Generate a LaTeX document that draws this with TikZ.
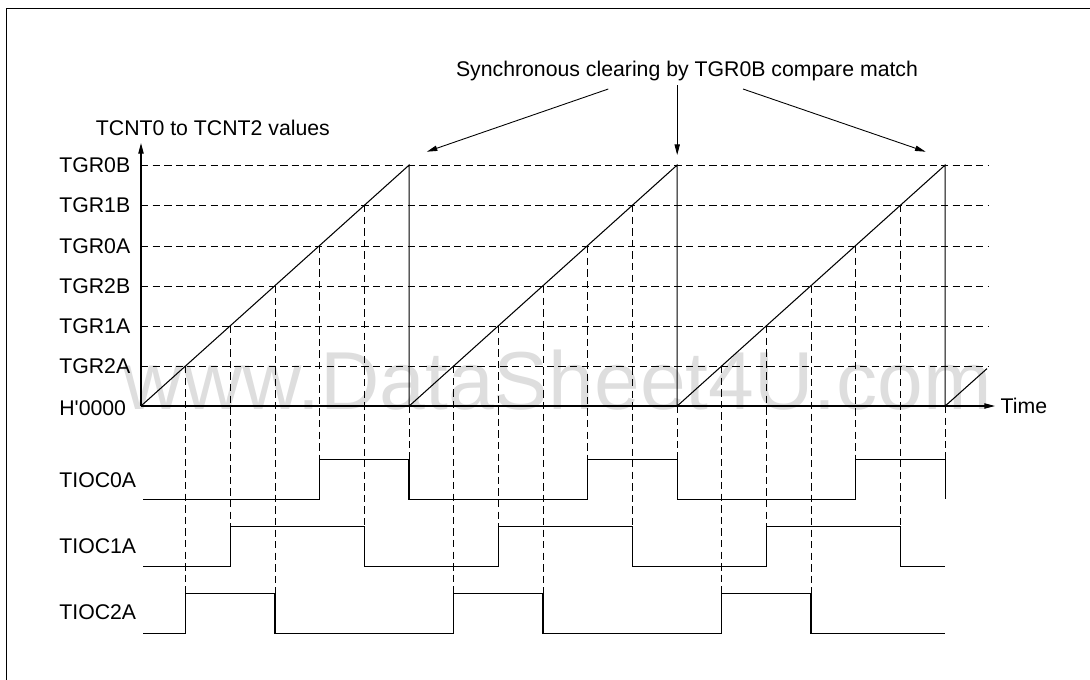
\documentclass[tikz,border=0pt]{standalone}
\usepackage{fontspec}
\setmainfont{Liberation Sans}
\usetikzlibrary{positioning,arrows.meta}

\begin{document}
\begin{tikzpicture}[
    x=0.02cm, y=-0.02cm,
    font=\fontsize{12.1}{14}\selectfont,
    >={Triangle[length=6pt, width=3pt]},
    axis/.style={->, line width=0.6pt},
    ramp/.style={line width=0.6pt},
    grid/.style={dash pattern=on 4.2pt off 2.4pt, line width=0.55pt},
    signal/.style={line width=0.8pt},
    lbl/.style={anchor=west, inner sep=0pt},
    callout/.style={->, line width=0.5pt},
    wmark/.style={text=black!13, inner sep=0pt,
        font=\fontsize{46.8}{50}\selectfont}
]
\useasboundingbox (0,0) rectangle (1090,680);

% Frame
\draw[line width=0.8pt] (6.3,680) -- (6.3,8.3) -- (1090,8.3);

% Watermark
\node[wmark, anchor=base] (wm) at (558,409) {www.DataSheet4U.com};

% Axes
\coordinate (o)     at (141,406);
\coordinate (ytop)  at (141,143);
\coordinate (xend)  at (995,406);
\coordinate (gend)  at (988,406);
\draw[axis] (o) -- (ytop);
\draw[axis] (o) -- (xend);
\node[lbl] (ylab) at (95.6,128.3) {TCNT0 to TCNT2 values};
\node[lbl, right=3pt of xend] (tlab) {Time};

% Levels
\node[lbl] (lv6) at (59,165) {TGR0B};
\node[lbl] (lv5) at (59,205) {TGR1B};
\node[lbl] (lv4) at (59,246) {TGR0A};
\node[lbl] (lv3) at (59,286) {TGR2B};
\node[lbl] (lv2) at (59,326) {TGR1A};
\node[lbl] (lv1) at (59,366) {TGR2A};
\node[lbl] (lv0) at (59,408) {H\textquotesingle 0000};

\draw[grid] (lv6 -| o) -- (lv6 -| gend);
\draw[grid] (lv5 -| o) -- (lv5 -| gend);
\draw[grid] (lv4 -| o) -- (lv4 -| gend);
\draw[grid] (lv3 -| o) -- (lv3 -| gend);
\draw[grid] (lv2 -| o) -- (lv2 -| gend);
\draw[grid] (lv1 -| o) -- (lv1 -| gend);

% Counter ramps
\coordinate (pk1) at (409.2,165);
\coordinate (pk2) at (677.2,165);
\coordinate (pk3) at (945.2,165);
\coordinate (rend) at (987,368.6);
\draw[ramp] (o) -- (pk1) -- (pk1 |- o) -- (pk2) -- (pk2 |- o)
    -- (pk3) -- (pk3 |- o) -- (rend);

% Output pins
\node[lbl] (p0) at (59,480) {TIOC0A};
\node[lbl] (p1) at (59,546) {TIOC1A};
\node[lbl] (p2) at (59,612) {TIOC2A};

\draw[signal] (143,499.3) -| (319.7,459.3) -| (409.2,499.3)
    -| (587.7,459.3) -| (677.2,499.3) -| (855.7,459.3) -| (945.2,499.3);
\draw[signal] (143,566.7) -| (230.3,526.7) -| (364.3,566.7)
    -| (498.3,526.7) -| (632.3,566.7) -| (766.3,526.7) -| (900.3,566.7)
    -- (945.2,566.7);
\draw[signal] (143,633.3) -| (185.7,593.3) -| (275,633.3)
    -| (453.7,593.3) -| (543,633.3) -| (721.7,593.3) -| (811,633.3)
    -- (945.2,633.3);

% Compare match drops
\draw[grid] (185.7,366) -- (185.7,593.3);
\draw[grid] (453.7,366) -- (453.7,593.3);
\draw[grid] (721.7,366) -- (721.7,593.3);
\draw[grid] (230.3,326) -- (230.3,526.7);
\draw[grid] (498.3,326) -- (498.3,526.7);
\draw[grid] (766.3,326) -- (766.3,526.7);
\draw[grid] (275,286) -- (275,593.3);
\draw[grid] (543,286) -- (543,593.3);
\draw[grid] (811,286) -- (811,593.3);
\draw[grid] (319.7,246) -- (319.7,459.3);
\draw[grid] (587.7,246) -- (587.7,459.3);
\draw[grid] (855.7,246) -- (855.7,459.3);
\draw[grid] (364.3,205) -- (364.3,526.7);
\draw[grid] (632.3,205) -- (632.3,526.7);
\draw[grid] (900.3,205) -- (900.3,526.7);
\draw[grid] (pk1 |- o) -- (409.2,459.3);
\draw[grid] (pk2 |- o) -- (677.2,459.3);
\draw[grid] (pk3 |- o) -- (945.2,459.3);

% Clearing note
\node[anchor=base] (clr) at (687,76) {Synchronous clearing by TGR0B compare match};
\coordinate (c1) at (608.3,89);
\coordinate (c2) at (677.2,85);
\coordinate (c3) at (743,89);
\coordinate (t1) at (426.8,151.7);
\coordinate (t2) at (677.2,155);
\coordinate (t3) at (925.6,151.7);
\draw[callout] (c1) -- (t1);
\draw[callout] (c2) -- (t2);
\draw[callout] (c3) -- (t3);

\end{tikzpicture}
\end{document}
